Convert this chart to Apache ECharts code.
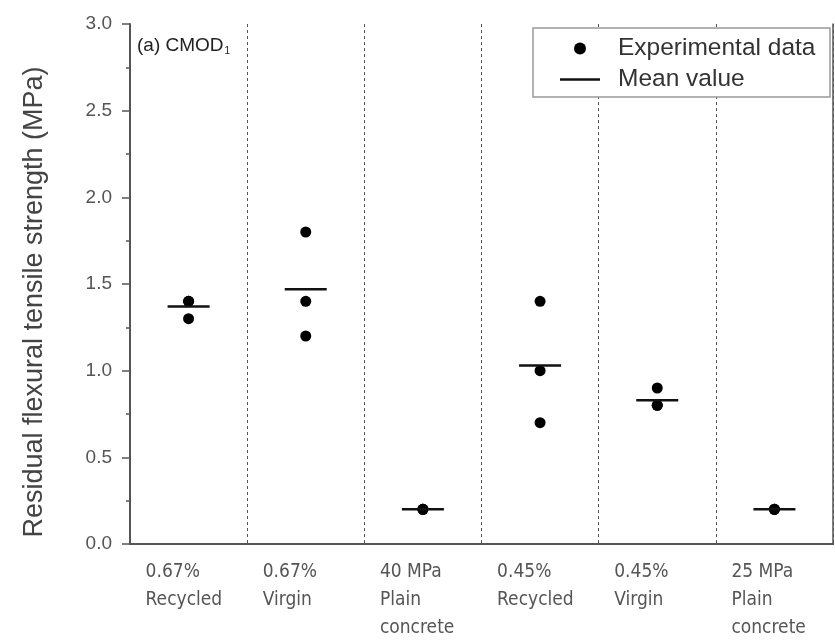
<!DOCTYPE html>
<html>
<head>
<meta charset="utf-8">
<title>Residual flexural tensile strength</title>
<script src="https://cdn.jsdelivr.net/npm/echarts@6/dist/echarts.min.js"></script>
<style>
  html, body { margin: 0; padding: 0; background: #fff; }
  #chart { width: 835px; height: 641px; }
</style>
</head>
<body>
<div id="chart"></div>
<script>
// categories along the x axis
const categories = [
  '0.67%\nRecycled',
  '0.67%\nVirgin',
  '40 MPa\nPlain\nconcrete',
  '0.45%\nRecycled',
  '0.45%\nVirgin',
  '25 MPa\nPlain\nconcrete'
]

// experimental points, one list per category
const recycled067 = [1.4, 1.4, 1.3]
const virgin067 = [1.8, 1.4, 1.2]
const plain40 = [0.2, 0.2, 0.2]
const recycled045 = [1.4, 1.0, 0.7]
const virgin045 = [0.9, 0.8, 0.8]
const plain25 = [0.2, 0.2, 0.2]

// mean values
const meanValues = [1.37, 1.47, 0.2, 1.03, 0.83, 0.2]

const yTicks = [0, 0.5, 1.0, 1.5, 2.0, 2.5, 3.0]

const groups = [recycled067, virgin067, plain40, recycled045, virgin045, plain25]
const pointData = []
groups.forEach((vals, i) => {
  vals.forEach(v => pointData.push([categories[i], v]))
})
const meanData = meanValues.map((v, i) => [categories[i], v])

const chart = echarts.init(document.getElementById('chart'))

const axisColor = '#555'
const sansFont = '"Liberation Sans", Arial, sans-serif'
const narrowFont = '"DejaVu Sans Condensed", "Liberation Sans Narrow", "Liberation Sans", sans-serif'

const option = {
  backgroundColor: '#fff',
  animation: false,
  grid: {
    left: 130,
    right: 2,
    top: 24,
    bottom: 97
  },
  legend: [
    {
      data: [{ name: 'Experimental data', icon: 'circle' }],
      orient: 'vertical',
      left: 574,
      top: 36,
      padding: 0,
      itemWidth: 12,
      itemHeight: 12,
      textStyle: {
        fontFamily: sansFont,
        fontSize: 24.5,
        color: '#333',
        padding: [0, 0, 0, 27]
      }
    },
    {
      data: [{ name: 'Mean value', icon: 'rect' }],
      orient: 'vertical',
      left: 560,
      top: 67,
      padding: 0,
      itemWidth: 40,
      itemHeight: 2.5,
      textStyle: {
        fontFamily: sansFont,
        fontSize: 24.5,
        color: '#333',
        padding: [0, 0, 0, 13]
      }
    }
  ],
  graphic: [
    {
      type: 'rect',
      z: 3,
      shape: { x: 533, y: 28, width: 297, height: 69 },
      style: { fill: '#fff', stroke: '#999', lineWidth: 1.5 }
    },
    {
      type: 'text',
      z: 5,
      left: 137,
      top: 36,
      style: {
        text: '{n|(a) CMOD}{s|1}',
        rich: {
          n: { fontFamily: sansFont, fontSize: 19, fill: '#222' },
          s: { fontFamily: sansFont, fontSize: 10, fill: '#222', verticalAlign: 'bottom', padding: [12, 0, 0, 1] }
        }
      }
    }
  ],
  xAxis: [
    {
      type: 'category',
      data: categories,
      position: 'bottom',
      boundaryGap: true,
      axisLine: { lineStyle: { color: axisColor, width: 2 } },
      axisTick: { show: false },
      splitLine: {
        show: true,
        interval: 0,
        lineStyle: { color: '#555', type: [3, 3], width: 1 }
      },
      axisLabel: {
        interval: 0,
        margin: 14,
        formatter: v => v.split('\n').map(s => '{a|' + s + '}').join('\n'),
        rich: {
          a: {
            width: 86,
            align: 'left',
            fontFamily: narrowFont,
            fontSize: 19,
            lineHeight: 28,
            color: '#555'
          }
        }
      }
    },
    {
      type: 'category',
      data: categories,
      position: 'top',
      boundaryGap: true,
      axisLine: { lineStyle: { color: axisColor, width: 2 } },
      axisTick: { show: true, length: 4, lineStyle: { color: axisColor } },
      axisLabel: { show: false },
      splitLine: { show: false }
    }
  ],
  yAxis: [
    {
      type: 'value',
      min: 0,
      max: 3,
      interval: 0.5,
      name: 'Residual flexural tensile strength (MPa)',
      nameLocation: 'middle',
      nameGap: 82,
      nameTextStyle: {
        fontFamily: sansFont,
        fontSize: 27,
        color: '#444',
        padding: [0, 36, 0, 0]
      },
      axisLine: { show: true, lineStyle: { color: axisColor, width: 2 } },
      axisTick: { show: true, length: 8, lineStyle: { color: axisColor, width: 1.5 } },
      minorTick: { show: true, splitNumber: 2, length: 4, lineStyle: { color: axisColor, width: 1.5 } },
      splitLine: { show: false },
      axisLabel: {
        margin: 18,
        fontFamily: sansFont,
        fontSize: 19,
        color: '#555',
        formatter: v => yTicks.includes(v) ? v.toFixed(1) : ''
      }
    },
    {
      type: 'value',
      position: 'right',
      min: 0,
      max: 3,
      interval: 0.5,
      axisLine: { show: true, lineStyle: { color: axisColor, width: 1.5 } },
      axisTick: { show: false },
      axisLabel: { show: false },
      splitLine: { show: false }
    }
  ],
  series: [
    {
      name: 'Experimental data',
      type: 'scatter',
      data: pointData,
      symbol: 'circle',
      symbolSize: 11,
      itemStyle: { color: '#000', opacity: 1 },
      z: 4
    },
    {
      name: 'Mean value',
      type: 'scatter',
      data: meanData,
      symbol: 'rect',
      symbolSize: [42, 2.5],
      itemStyle: { color: '#111', opacity: 1 },
      z: 5
    }
  ]
}

chart.setOption(option)
</script>
</body>
</html>
